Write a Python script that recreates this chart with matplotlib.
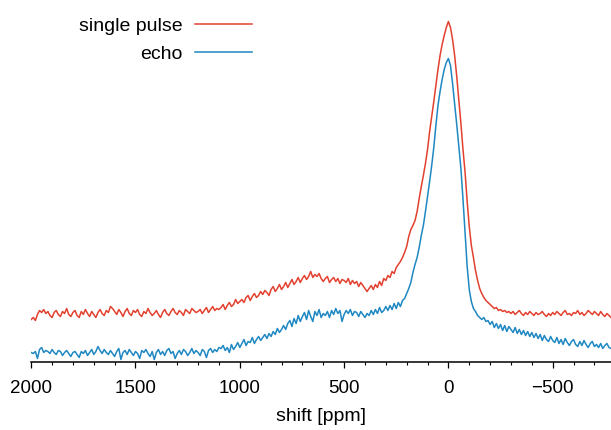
import numpy as np
import matplotlib
matplotlib.use("Agg")
import matplotlib.pyplot as plt
from matplotlib.ticker import MultipleLocator

plt.rcParams['font.family'] = ['Liberation Sans', 'DejaVu Sans']

# chemical shift grid (ppm), 10 ppm steps from 2000 down to -780
shift_start = 2000
shift_step = -10

# intensity (arbitrary units) of the single-pulse spectrum
single_pulse = [
    42, 44, 41, 47, 51, 49, 52, 48, 50, 46,
    44, 49, 51, 47, 45, 50, 48, 53, 47, 45,
    49, 51, 46, 44, 50, 47, 52, 48, 45, 50,
    47, 44, 49, 52, 48, 46, 51, 49, 55, 53,
    50, 47, 52, 49, 45, 50, 53, 48, 46, 51,
    49, 52, 47, 45, 50, 48, 53, 49, 46, 48,
    51, 47, 44, 49, 52, 48, 46, 50, 53, 49,
    47, 51, 49, 46, 52, 50, 48, 53, 51, 49,
    50, 52, 48, 51, 54, 49, 52, 55, 51, 53,
    52,
    54, 57, 52, 56, 59, 55, 57, 62, 58, 60,
    62, 59, 64, 66, 61, 65, 68, 64, 66, 70,
    67, 71, 69, 66, 72, 75, 70, 73, 77, 72,
    75, 79, 74, 78, 82, 77, 80, 84, 79, 83,
    86, 82, 85, 90, 84, 87, 85, 88, 83, 80,
    83, 85, 79, 82, 84, 80, 83, 78, 82, 81,
    79, 83, 77, 81, 78, 80, 75, 79, 76, 73,
    70, 73, 76, 72, 77, 74, 80, 76, 83, 81,
    86, 84, 90, 88, 94, 97, 100, 104, 109, 115,
    125, 132, 136, 141, 150, 163, 175, 186, 198,
    212, 230, 245, 260, 276, 292, 306, 317, 326, 334, 340,
    334, 322, 306, 285, 262, 238, 212, 189, 160, 135,
    116, 104, 91, 81, 73, 68, 64, 61, 59, 57,
    55, 53, 54, 51, 52, 50, 51, 49, 50, 48,
    50, 47, 49, 51, 48, 46, 49, 47, 50, 48,
    46, 49, 47, 48, 50, 47, 45, 48, 46, 49,
    47, 50, 48, 46, 49, 51, 47, 48, 46, 49,
    48, 51, 47, 49, 46, 48, 51, 49, 47, 50,
    48, 46, 50, 47, 45, 48, 46, 44,
]

# intensity (arbitrary units) of the echo spectrum
echo = [
    9, 8, 10, 3, 12, 14, 9, 11, 10, 8,
    12, 9, 7, 11, 10, 6, 9, 11, 8, 5,
    9, 10, 7, 4, 10, 8, 11, 6, 9, 12,
    7, 10, 15, 11, 8, 12, 9, 7, 11, 8,
    5, 10, 13, 2, 9, 11, 7, 12, 9, 6,
    10, 8, 3, 11, 9, 12, 8, 5, 10, 2,
    9, 12, 7, 10, 6, 11, 13, 8, 10, 3,
    8, 11, 7, 12, 10, 6, 9, 13, 8, 11,
    9, 6, 12, 10, 4, 11, 13, 9, 12, 10,
    14,
    13, 16, 11, 14, 9, 17, 12, 15, 19, 14,
    18, 22, 16, 20, 19, 24, 18, 22, 25, 21,
    24, 27, 23, 28, 25, 30, 27, 33, 29, 32,
    36, 32, 38, 41, 35, 43, 38, 46, 40, 45,
    49, 42, 51, 45, 40, 50, 46, 52, 44, 48,
    46, 50, 44, 51, 47, 53, 48, 51, 40, 47,
    51, 48, 52, 46, 50, 49, 45, 50, 47, 44,
    48, 46, 51, 47, 52, 48, 54, 49, 51, 55,
    51, 56, 52, 58, 53, 59, 55, 61, 63, 68,
    73, 79, 89, 97, 104, 114, 126, 136, 150,
    165, 180, 196, 214, 236, 256, 270, 282, 292, 299, 303,
    296, 278, 258, 237, 215, 193, 162, 128, 95, 72,
    60, 53, 50, 46, 44, 42, 44, 40, 41, 37,
    40, 34, 38, 33, 37, 31, 36, 30, 35, 32,
    29, 34, 28, 32, 27, 31, 26, 30, 25, 29,
    24, 28, 23, 27, 21, 26, 22, 20, 25, 21,
    19, 24, 18, 22, 17, 23, 19, 16, 20, 22,
    17, 15, 20, 16, 21, 17, 14, 18, 20, 15,
    17, 14, 18, 13, 16, 18, 14, 13,
]

labels = ["single pulse", "echo"]
x_ticks = [2000, 1500, 1000, 500, 0, -500]
x_ticklabels = ["2000", "1500", "1000", "500", "0", "\u2212500"]

shift = shift_start + shift_step * np.arange(len(single_pulse))

W, H = 611, 430
fig = plt.figure(figsize=(W / 100, H / 100), dpi=100)
ax_left = 31.2 / W
ax_bottom = (H - 361.5) / H
ax = fig.add_axes([ax_left, ax_bottom, 1 - ax_left, 1 - ax_bottom])

red = "#e2412f"
blue = "#1f88c2"
ax.plot(shift, single_pulse, color=red, lw=1.1, label=labels[0])
ax.plot(shift, echo, color=blue, lw=1.1, label=labels[1])

ax.set_xlim(2000, -779.5)
ax.set_ylim(0, 361.5)

for s in ["left", "right", "top"]:
    ax.spines[s].set_visible(False)
ax.spines["bottom"].set_linewidth(1.1)
ax.spines["bottom"].set_bounds(2000, -779.5)
ax.set_yticks([])

ax.set_xticks(x_ticks)
ax.set_xticklabels(x_ticklabels)
ax.xaxis.set_minor_locator(MultipleLocator(100))
ax.tick_params(axis="x", which="major", direction="out", length=4.5, width=0.9,
               pad=9, labelsize=13.5)
ax.tick_params(axis="x", which="minor", direction="out", length=2.5, width=0.8)
ax.set_xlabel("shift [ppm]", fontsize=14, labelpad=8)

leg = ax.legend(loc="upper right", bbox_to_anchor=((252 - 31.2) / (W - 31.2), 0.952),
                frameon=False, markerfirst=False, fontsize=14, handlelength=2.95,
                handletextpad=0.62, labelspacing=0.54, borderpad=0, borderaxespad=0)

fig.savefig("out.png", dpi=100)
